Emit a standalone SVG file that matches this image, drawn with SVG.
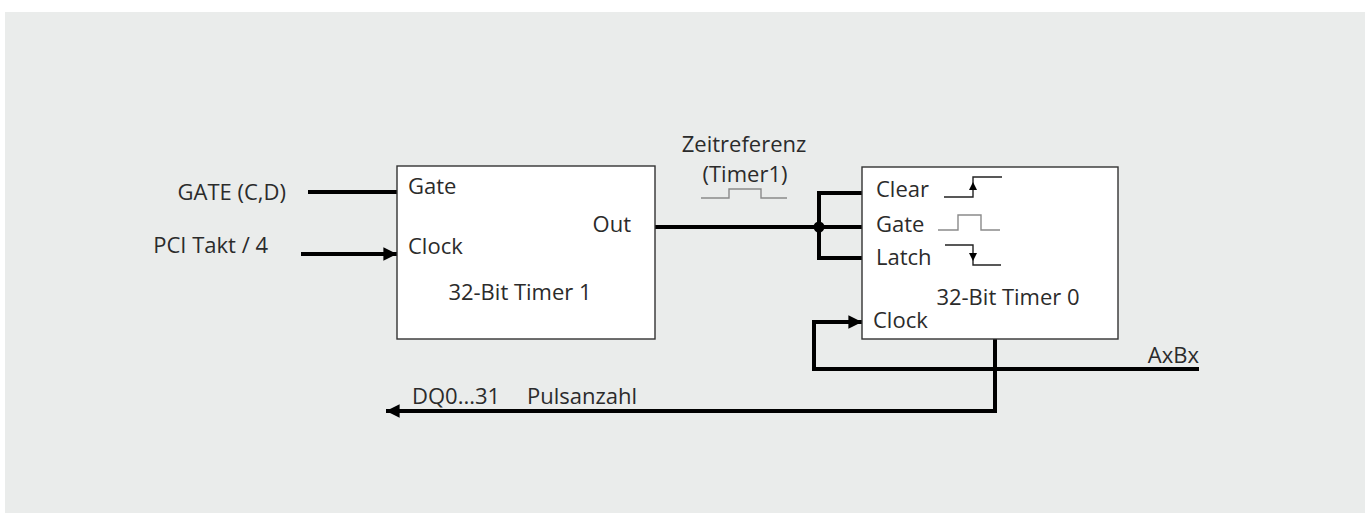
<svg xmlns="http://www.w3.org/2000/svg" width="1369" height="513" viewBox="0 0 1369 513">
<defs>
<style>
.t{font-family:"Open Sans","Noto Sans","Liberation Sans",sans-serif;font-size:22px;fill:#2b2b2b}
.box{fill:#fff;stroke:#333;stroke-width:1.4}
.w{fill:none;stroke:#000;stroke-width:4}
.sig{fill:none;stroke:#8a8a8a;stroke-width:1.4}
.sigk{fill:none;stroke:#222;stroke-width:1.4}
</style>
<marker id="ah" viewBox="0 0 10 10" refX="10" refY="5" markerWidth="3.8" markerHeight="3.4" orient="auto" markerUnits="strokeWidth">
<path d="M0,0L10,5L0,10z" fill="#000"/>
</marker>
</defs>
<rect x="0" y="0" width="1369" height="513" fill="#fff"/>
<rect x="5" y="12" width="1360" height="501" fill="#eaeceb"/>

<g id="connectors">
<line class="w" x1="308" y1="192" x2="397" y2="192"/>
<line class="w" x1="301" y1="254" x2="397" y2="254" marker-end="url(#ah)"/>
<line class="w" x1="655" y1="227" x2="862" y2="227"/>
<polyline class="w" points="862,193 819,193 819,258 862,258"/>
<circle cx="819" cy="227" r="5.5" fill="#000"/>
<polyline class="w" points="1199,369 814,369 814,322 862,322" marker-end="url(#ah)"/>
<polyline class="w" points="995,339 995,411 386,411" marker-end="url(#ah)"/>
</g>

<g id="input-labels">
<text class="t" x="286" y="200" text-anchor="end">GATE (C,D)</text>
<text class="t" x="268" y="253" text-anchor="end">PCI Takt / 4</text>
</g>

<g id="timer1">
<rect class="box" x="397" y="166" width="258" height="173"/>
<text class="t" x="408" y="194">Gate</text>
<text class="t" x="408" y="254">Clock</text>
<text class="t" x="631" y="232" text-anchor="end">Out</text>
<text class="t" x="520" y="300" text-anchor="middle">32-Bit Timer 1</text>
</g>

<g id="zeitreferenz">
<text class="t" x="744" y="152" text-anchor="middle">Zeitreferenz</text>
<text class="t" x="745" y="182" text-anchor="middle">(Timer1)</text>
<polyline class="sig" points="701,198 729,198 729,189 761,189 761,198 787,198"/>
</g>

<g id="timer0">
<rect class="box" x="862" y="167" width="256" height="172"/>
<text class="t" x="876" y="197">Clear</text>
<text class="t" x="876" y="232">Gate</text>
<text class="t" x="876" y="265">Latch</text>
<text class="t" x="873" y="328">Clock</text>
<text class="t" x="1008" y="305" text-anchor="middle">32-Bit Timer 0</text>
<polyline class="sigk" points="944,197 973,197 973,177 1002,177"/>
<path d="M973,182L969,190L977,190z" fill="#000"/>
<polyline class="sig" points="938,230 958,230 958,215 981,215 981,230 1000,230"/>
<polyline class="sigk" points="945,245 973,245 973,265 1001,265"/>
<path d="M973,261L969,253L977,253z" fill="#000"/>
</g>

<g id="output-labels">
<text class="t" x="1199" y="363" text-anchor="end">AxBx</text>
<text class="t" x="412" y="404">DQ0...31</text>
<text class="t" x="527" y="404">Pulsanzahl</text>
</g>
</svg>
